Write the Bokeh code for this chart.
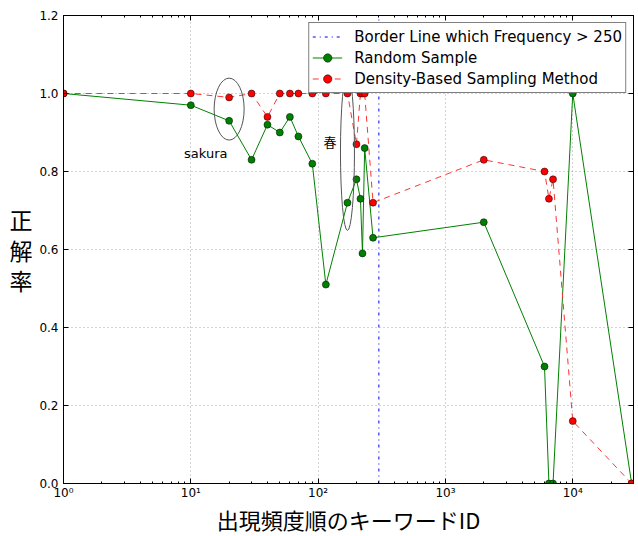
from bokeh.plotting import figure
from bokeh.models import (Range1d, LogAxis, LinearAxis, LogTicker, FixedTicker,
                          CustomJSTickFormatter, PrintfTickFormatter, Legend,
                          LegendItem, Label)
from bokeh.embed import file_html
from bokeh.resources import INLINE

# ---------------- data ----------------
keyword_id = [1, 10, 20, 30, 40, 50, 60, 70, 90, 115, 170, 200, 215, 223, 232,
              270, 2000, 6000, 6500, 7000, 10000, 29000]
random_sample = [1.00, 0.97, 0.93, 0.83, 0.92, 0.90, 0.94, 0.89, 0.82, 0.51,
                 0.72, 0.78, 0.73, 0.59, 0.86, 0.63, 0.67, 0.30, 0.00, 0.00,
                 1.00, 0.00]
density_based = [1.00, 1.00, 0.99, 1.00, 0.94, 1.00, 1.00, 1.00, 1.00, 1.00,
                 1.00, 0.87, 1.00, 1.00, 1.00, 0.72, 0.83, 0.80, 0.73, 0.78,
                 0.16, 0.00]
border_id = 300
y_ticks = [0.0, 0.2, 0.4, 0.6, 0.8, 1.0, 1.2]
x_min, x_max = 1, 30000
y_min, y_max = 0.0, 1.2

# annotations (word, keyword id, accuracy)
ann_sakura = ("sakura", 13.1, 0.845)
ann_haru = ("春", 124, 0.878)
ell_sakura = (20, 0.96)
ell_haru = (170, 0.85)

# ---------------- figure ----------------
p = figure(frame_width=570, frame_height=468, x_axis_type="log",
           x_range=Range1d(x_min, x_max), y_range=Range1d(y_min, y_max),
           output_backend="svg", toolbar_location=None,
           min_border_left=63, min_border_top=15, min_border_right=5,
           min_border_bottom=46)
p.background_fill_color = "white"
p.border_fill_color = "white"
p.outline_line_color = "black"
p.outline_line_width = 1

tick_font = "DejaVu Sans"
sup = CustomJSTickFormatter(code="""
const s = ['\u2070','\u00b9','\u00b2','\u00b3','\u2074','\u2075','\u2076','\u2077','\u2078','\u2079'];
const e = Math.round(Math.log10(tick));
return '10' + String(e).split('').map(c => s[parseInt(c)]).join('');
""")

xa = p.xaxis[0]
xa.ticker = LogTicker(num_minor_ticks=10)
xa.formatter = sup
xa.axis_label = "出現頻度順のキーワードID"
xa.axis_label_text_font = "Noto Sans CJK JP"
xa.axis_label_text_font_size = "22px"
xa.axis_label_text_font_style = "normal"
xa.axis_label_text_color = "black"
xa.axis_label_standoff = 0
xa.major_label_standoff = 2
xa.major_label_text_font = tick_font
xa.major_label_text_font_size = "12px"
xa.major_label_text_color = "black"

ya = p.yaxis[0]
ya.ticker = FixedTicker(ticks=y_ticks)
ya.formatter = PrintfTickFormatter(format="%.1f")
ya.axis_label = "正\n解\n率"
ya.axis_label_orientation = "horizontal"
ya.axis_label_text_font = "Noto Sans CJK JP"
ya.axis_label_text_font_size = "23px"
ya.axis_label_text_font_style = "normal"
ya.axis_label_text_color = "black"
ya.axis_label_text_line_height = 0.9
ya.axis_label_standoff = 4
ya.major_label_standoff = 5
ya.major_label_text_font = tick_font
ya.major_label_text_font_size = "12px"
ya.major_label_text_color = "black"
ya.minor_tick_line_color = None

top = LogAxis(ticker=LogTicker(num_minor_ticks=10), major_label_text_font_size="1px",
              major_label_text_color=None, major_label_standoff=0)
right = LinearAxis(ticker=FixedTicker(ticks=y_ticks), major_label_text_font_size="1px",
                   major_label_text_color=None, major_label_standoff=0,
                   minor_tick_line_color=None)
p.add_layout(top, "above")
p.add_layout(right, "right")

for ax in [xa, ya, top, right]:
    ax.major_tick_in = 5
    ax.major_tick_out = 0
    ax.minor_tick_in = 2
    ax.minor_tick_out = 0
    ax.axis_line_color = "black"
    ax.major_tick_line_color = "black"

p.grid.grid_line_color = "#444444"
p.grid.grid_line_width = 0.6
p.grid.grid_line_dash = "1 3"
p.grid.grid_line_alpha = 0.8
p.xgrid.ticker = LogTicker(num_minor_ticks=10)
p.ygrid.ticker = FixedTicker(ticks=y_ticks)

# ---------------- glyphs ----------------
blue = p.line([border_id, border_id], [y_min, y_max], line_color="blue",
              line_width=1, line_dash="3 4 1 4")

g_line = p.line(keyword_id, random_sample, line_color="green", line_width=1)
g_pts = p.scatter(keyword_id, random_sample, size=7, fill_color="green",
                  line_color="black", line_width=0.5)

r_line = p.line(keyword_id, density_based, line_color="#ff3333", line_width=1,
                line_dash="6 5")
r_pts = p.scatter(keyword_id, density_based, size=7, fill_color="red",
                  line_color="black", line_width=0.5)

p.ellipse(x=[ell_sakura[0]], y=[ell_sakura[1]], width=30, height=62,
          width_units="screen", height_units="screen",
          fill_color=None, line_color="#555555", line_width=1)
p.ellipse(x=[ell_haru[0]], y=[ell_haru[1]], width=14, height=157,
          width_units="screen", height_units="screen",
          fill_color=None, line_color="#555555", line_width=1)

p.add_layout(Label(x=ann_sakura[1], y=ann_sakura[2], text=ann_sakura[0],
                   text_align="center", text_baseline="middle",
                   text_font_size="13px", text_font="DejaVu Sans",
                   text_color="black"))
p.add_layout(Label(x=ann_haru[1], y=ann_haru[2], text=ann_haru[0],
                   text_align="center", text_baseline="middle",
                   text_font_size="13px", text_font="Noto Sans CJK JP",
                   text_color="black"))

legend = Legend(items=[
    LegendItem(label="Border Line which Frequency > 250", renderers=[blue]),
    LegendItem(label="Random Sample", renderers=[g_line, g_pts]),
    LegendItem(label="Density-Based Sampling Method", renderers=[r_line, r_pts]),
], location="top_right")
legend.border_line_color = "black"
legend.border_line_width = 1
legend.background_fill_color = "white"
legend.background_fill_alpha = 1
legend.label_text_font = tick_font
legend.label_text_font_size = "15px"
legend.label_text_color = "black"
legend.glyph_width = 30
legend.glyph_height = 21
legend.label_height = 21
legend.label_standoff = 12
legend.padding = 3
legend.spacing = 0
legend.margin = 7
p.add_layout(legend)

open("out.html", "w").write(file_html(p, INLINE))
